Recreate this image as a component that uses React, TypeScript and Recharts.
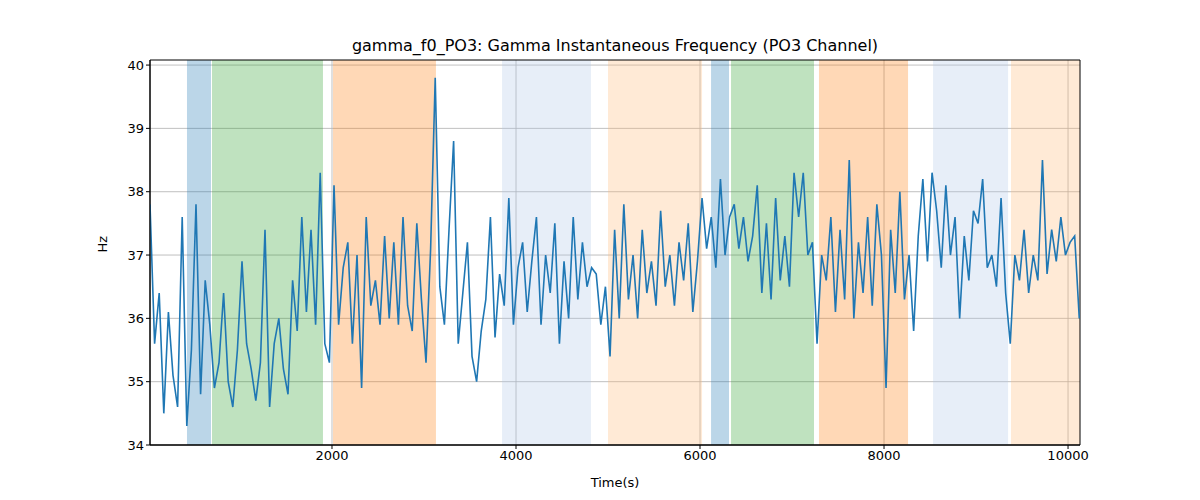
import React from "react";
import { LineChart, Line, XAxis, YAxis, CartesianGrid, ReferenceArea, Label } from "recharts";

const T0 = 22;
const STEP = 50;
const values: number[] = [
  37.8,35.6,36.4,34.5,36.1,35.1,34.6,37.6,34.3,35.5,37.8,34.8,36.6,35.9,
  34.9,35.3,36.4,35.0,34.6,35.5,36.9,35.6,35.2,34.7,35.3,37.4,34.6,35.6,36.0,35.2,34.8,36.6,35.8,37.6,36.1,37.4,35.9,38.3,
  35.6,35.3,38.1,35.9,36.8,37.2,35.6,37.0,34.9,37.6,36.2,36.6,
  35.9,37.3,36.0,37.2,35.9,37.6,36.2,35.8,37.5,36.3,35.3,37.1,39.8,
  36.5,35.9,37.4,38.8,35.6,36.4,37.2,35.4,35.0,35.8,36.3,37.6,35.7,36.7,
  36.2,37.9,35.9,36.8,37.2,36.1,36.9,37.6,35.9,37.0,36.4,37.5,35.6,36.9,36.0,37.6,36.3,37.2,36.5,36.8,
  36.7,35.9,36.5,35.4,37.4,36.0,37.8,36.3,37.0,36.0,37.4,36.4,36.9,36.2,37.7,36.5,37.0,36.2,37.2,36.6,37.5,36.1,36.9,
  37.9,37.1,37.6,36.8,38.2,37.0,37.6,
  37.8,37.1,37.6,36.9,37.3,38.1,36.4,37.5,36.3,37.9,36.6,37.3,36.5,38.3,37.6,38.3,37.0,37.2,
  35.6,37.0,36.6,37.6,36.1,37.4,36.3,38.5,36.0,37.2,36.4,37.6,36.2,37.8,37.0,34.9,37.4,36.4,38.0,36.3,37.0,
  35.8,37.3,38.2,36.9,38.3,37.7,36.8,38.1,37.0,37.6,36.0,37.3,36.6,37.7,37.5,38.2,36.8,37.0,36.5,37.9,36.4,
  35.6,37.0,36.6,37.4,36.4,37.0,36.6,38.5,36.7,37.4,36.9,37.6,37.0,37.2,37.3,36.0,
];
const data = values.map((v, i) => ({ t: T0 + i * STEP, hz: v }));

const spanStarts = [424, 696, 2011, 3848, 5000, 6120, 6337, 7293, 8533, 9380];
const spanEnds = [685, 1902, 3130, 4815, 6022, 6315, 7239, 8261, 9348, 10130];
const spanColors = ["#1f77b4", "#2ca02c", "#ff7f0e", "#aec7e8", "#ffbb78", "#1f77b4", "#2ca02c", "#ff7f0e", "#aec7e8", "#ffbb78"];
const xTicks = [2000, 4000, 6000, 8000, 10000];
const yTicks = [34, 35, 36, 37, 38, 39, 40];
const X_MIN = 22, X_MAX = 10130, Y_MIN = 34, Y_MAX = 40.08;

const font = "DejaVu Sans, sans-serif";

export default function App() {
  return (
    <div style={{ position: "absolute", left: 0, top: 0, width: 1200, height: 500, background: "#fff", fontFamily: font }}>
      <div style={{ position: "absolute", top: 36, width: 1200, left: 15, textAlign: "center", fontSize: 16, color: "#000" }}>
        gamma_f0_PO3: Gamma Instantaneous Frequency (PO3 Channel)
      </div>
      <LineChart width={1200} height={500} data={data} margin={{ top: 60, right: 120, bottom: 25, left: 90 }}>
        <CartesianGrid stroke="#b0b0b0" strokeWidth={0.8} verticalValues={xTicks} horizontalValues={yTicks} />
        {spanStarts.map((s, i) => (
          <ReferenceArea key={i} x1={s} x2={spanEnds[i]} y1={Y_MIN} y2={Y_MAX} fill={spanColors[i]} fillOpacity={0.3} stroke="none" ifOverflow="hidden" />
        ))}
        <XAxis dataKey="t" type="number" domain={[X_MIN, X_MAX]} ticks={xTicks} allowDataOverflow
          tick={{ fill: "#000", fontSize: 13, fontFamily: font }} tickSize={4} stroke="#000" height={30}>
          <Label value="Time(s)" position="insideBottom" offset={-12} style={{ fill: "#000", fontSize: 13, fontFamily: font }} />
        </XAxis>
        <YAxis type="number" domain={[Y_MIN, Y_MAX]} ticks={yTicks} allowDataOverflow
          tick={{ fill: "#000", fontSize: 13, fontFamily: font }} tickSize={4} stroke="#000" width={60}>
          <Label value="Hz" angle={-90} position="insideLeft" offset={12} style={{ fill: "#000", fontSize: 13, fontFamily: font }} />
        </YAxis>
        <ReferenceArea x1={X_MIN} x2={X_MAX} y1={Y_MIN} y2={Y_MAX} fill="none" stroke="#000" strokeWidth={1} ifOverflow="visible" />
        <Line type="linear" dataKey="hz" stroke="#1f77b4" strokeWidth={1.6} dot={false} isAnimationActive={false} />
      </LineChart>
    </div>
  );
}
